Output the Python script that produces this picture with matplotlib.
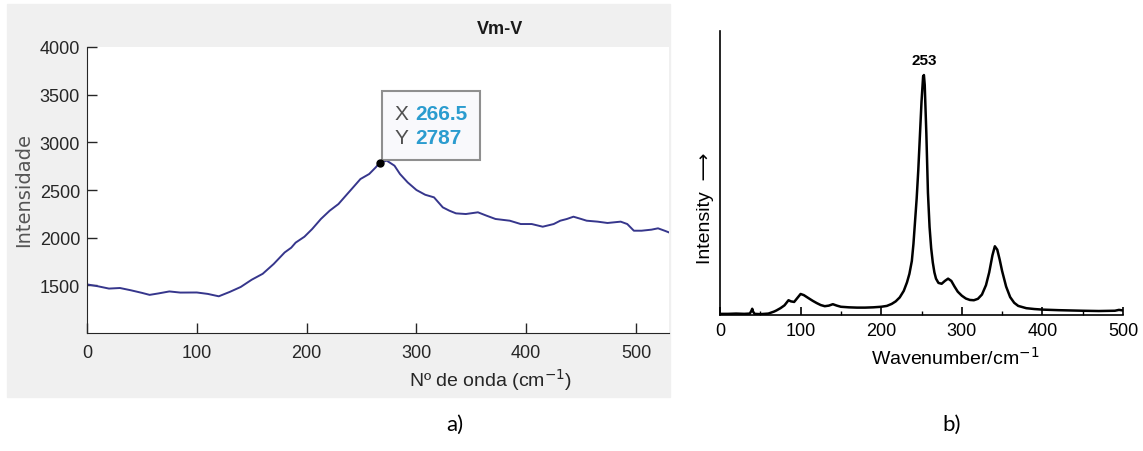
import matplotlib
matplotlib.use("Agg")
import matplotlib.pyplot as plt
from matplotlib.patches import Rectangle
from matplotlib.offsetbox import TextArea, HPacker, VPacker, AnnotationBbox
from matplotlib.ticker import MultipleLocator

# a) measured spectrum (Vm-V)
wave_a = [0, 10, 20, 30, 40, 50, 57, 65, 75, 85, 100, 110, 120, 130, 140,
          150, 160, 170, 180, 186, 190, 198, 205, 213, 221, 229, 237, 241,
          249, 257, 263, 266.5, 273, 280, 285, 292, 300, 308, 316, 324, 330,
          336, 345, 356, 364, 372, 385, 395, 405, 415, 425, 431, 437, 443,
          450, 455, 465, 474, 486, 492, 498, 505, 514, 520, 526, 530]
inten_a = [1510, 1490, 1466, 1472, 1448, 1421, 1400, 1415, 1436, 1424, 1425,
           1410, 1385, 1431, 1483, 1559, 1621, 1724, 1845, 1895, 1948, 2010,
           2090, 2196, 2283, 2353, 2458, 2510, 2615, 2668, 2738, 2787, 2808,
           2755, 2668, 2580, 2500, 2450, 2423, 2318, 2283, 2255, 2248, 2266,
           2230, 2196, 2178, 2143, 2143, 2115, 2143, 2178, 2196, 2220, 2196,
           2178, 2168, 2154, 2168, 2143, 2073, 2073, 2084, 2098, 2073, 2055]
tip_x, tip_y = 266.5, 2787

# b) reference Raman spectrum (arbitrary units)
wave_b = [0, 10, 20, 30, 37, 39, 40, 41, 43, 50, 60, 63, 67, 70, 75, 80, 85,
          88, 92, 96, 100, 104, 110, 115, 120, 125, 130, 135, 140, 145, 150,
          160, 170, 180, 190, 200, 207, 213, 218, 223, 228, 232, 235, 238,
          240, 242, 244, 246, 248, 250, 252, 253, 254, 256, 258, 260, 262,
          264, 266, 268, 271, 275, 279, 283, 287, 291, 295, 300, 305, 310,
          315, 320, 325, 330, 334, 338, 341, 344, 347, 350, 355, 360, 365,
          370, 380, 390, 400, 420, 450, 470, 490, 495, 500]
inten_b = [0.4, 0.4, 0.5, 0.4, 0.5, 1.5, 2.2, 1.2, 0.4, 0.3, 0.5, 0.8, 1.2,
           1.6, 2.4, 3.4, 5.2, 4.8, 4.6, 6.0, 7.4, 7.0, 5.9, 5.0, 4.2, 3.5,
           3.1, 3.3, 3.8, 3.3, 2.9, 2.7, 2.6, 2.6, 2.7, 2.9, 3.2, 3.9, 4.8,
           6.2, 8.5, 11.5, 14.5, 19, 25, 33, 41, 51, 63, 75, 84, 84.5, 81,
           64, 43, 31, 23.5, 18.5, 15, 12.8, 11.3, 11.0, 12.0, 12.8, 12.0,
           10, 8.2, 6.8, 5.8, 5.3, 5.2, 5.7, 7.2, 10.5, 15, 21, 24.2, 23,
           19.5, 15.5, 10, 6.3, 4.3, 3.2, 2.4, 2.1, 1.9, 1.7, 1.5, 1.4, 1.5,
           1.8, 1.6]
peak_b = 253

W, H = 1143, 452
narrow = ["Liberation Sans Narrow", "Liberation Sans", "DejaVu Sans"]
grey = "#262626"

fig = plt.figure(figsize=(W / 100, H / 100), dpi=100)
fig.patches.append(Rectangle((7 / W, 1 - 398 / H), 663 / W, 393 / H,
                             transform=fig.transFigure, color="#f0f0f0",
                             zorder=-5))

# ---- panel a) : MATLAB style ----
ax1 = fig.add_axes([87 / W, 1 - 334 / H, 582 / W, 286 / H])
ax1.set_zorder(2)
ax1.set_facecolor("white")
ax1.plot(wave_a, inten_a, color="#36368c", lw=1.4)
ax1.plot(tip_x, tip_y, "o", color="black", ms=5, zorder=5)
ax1.set_xlim(0, 530)
ax1.set_ylim(1000, 4000)
ax1.set_xticks(range(0, 501, 100))
ax1.set_yticks(range(1500, 4001, 500))
for s in ("top", "right"):
    ax1.spines[s].set_visible(False)
for s in ("left", "bottom"):
    ax1.spines[s].set_color(grey)
ax1.tick_params(direction="in", length=7, width=1, colors=grey, labelsize=13)
ax1.tick_params(axis="x", pad=8)
ax1.tick_params(axis="y", pad=5)
for lab in ax1.get_xticklabels() + ax1.get_yticklabels():
    lab.set_family(narrow)

fig.text(500 / W, 1 - 30 / H, "Vm-V", ha="center", va="center",
         fontsize=13, fontweight="bold", family=narrow, color="#1a1a1a")
fig.text(491 / W, 1 - 380 / H, "Nº de onda (cm$^{-1}$)", ha="center",
         va="center", fontsize=14, family=narrow, color=grey)
fig.text(24 / W, 1 - 190 / H, "Intensidade", rotation=90, ha="center",
         va="center", fontsize=14, color="#555555")

# data tip (frame pad is 9 pt, so shift the box by that much)
tprops = dict(size=15, family=narrow)
row_x = HPacker(children=[
    TextArea("X", textprops=dict(color="#505050", **tprops)),
    TextArea("266.5", textprops=dict(color="#2b9ccf", weight="bold", **tprops))],
    sep=5, pad=0)
row_y = HPacker(children=[
    TextArea("Y", textprops=dict(color="#505050", **tprops)),
    TextArea("2787", textprops=dict(color="#2b9ccf", weight="bold", **tprops))],
    sep=5, pad=0)
tip = VPacker(children=[row_x, row_y], sep=4, pad=0, align="left")
ab = AnnotationBbox(tip, (tip_x, tip_y), xybox=(11, 11), xycoords="data",
                    boxcoords="offset points", box_alignment=(0, 0),
                    frameon=True, pad=0.9,
                    bboxprops=dict(facecolor="#f9f9fc", edgecolor="#8f8f8f",
                                   lw=1.5))
ax1.add_artist(ab)

# ---- panel b) : journal figure ----
ax2 = fig.add_axes([720 / W, 1 - 316 / H, 403 / W, 284 / H])
ax2.plot(wave_b, inten_b, color="black", lw=1.8)
ax2.set_xlim(0, 500)
ax2.set_ylim(0, 100)
ax2.set_yticks([])
ax2.xaxis.set_major_locator(MultipleLocator(100))
ax2.xaxis.set_minor_locator(MultipleLocator(50))
for s in ("top", "right"):
    ax2.spines[s].set_visible(False)
for s in ("left", "bottom"):
    ax2.spines[s].set_linewidth(1.2)
ax2.tick_params(axis="x", which="major", direction="in", length=6, width=1.2,
                pad=5, labelsize=13)
ax2.tick_params(axis="x", which="minor", direction="in", length=3, width=1)
for lab in ax2.get_xticklabels():
    lab.set_family("Liberation Sans")
ax2.annotate(str(peak_b), xy=(peak_b, max(inten_b)), xytext=(0, 6),
             textcoords="offset points", ha="center", va="bottom",
             fontsize=11, fontweight="bold", family="Liberation Sans")
fig.text(955 / W, 1 - 358 / H, "Wavenumber/cm$^{-1}$", ha="center",
         va="center", fontsize=14, family="Liberation Sans")
fig.text(705 / W, 1 - 208 / H, "Intensity  \u27f6", rotation=90, ha="center",
         va="center", fontsize=14, family=["Liberation Sans", "DejaVu Sans"])

fig.text(455 / W, 1 - 425 / H, "a)", ha="center", va="center", fontsize=16,
         family="Lato")
fig.text(952 / W, 1 - 425 / H, "b)", ha="center", va="center", fontsize=16,
         family="Lato")

fig.savefig("out.png", dpi=100)
